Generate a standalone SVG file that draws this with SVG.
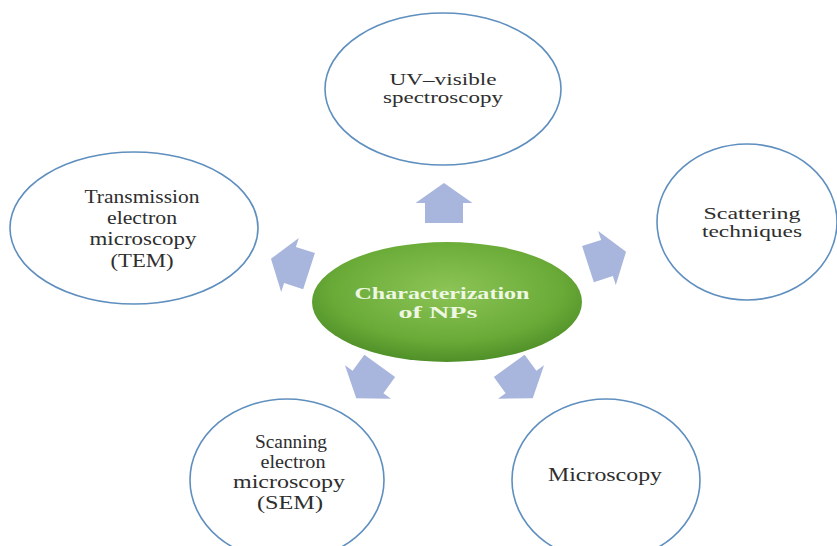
<svg xmlns="http://www.w3.org/2000/svg" width="837" height="546" viewBox="0 0 837 546">
<defs>
<radialGradient id="g" cx="0.5" cy="0.4" r="0.6">
<stop offset="0" stop-color="#8cc456"/>
<stop offset="0.7" stop-color="#6aab38"/>
<stop offset="1" stop-color="#4f8f28"/>
</radialGradient>
<path id="arr" d="M0,-20 L28.5,0 L19,0 L19,20 L-19,20 L-19,0 L-28.5,0 Z"/>
</defs>
<style>
.n{fill:#ffffff;stroke:#5f8fbf;stroke-width:1.6}
.t{font-family:"Liberation Serif","Times New Roman",serif;font-size:19px;fill:#2e2e2e;text-anchor:middle}
.s{font-size:17px}
.c{font-family:"Liberation Serif","Times New Roman",serif;font-size:17px;font-weight:bold;fill:#eef7e2;text-anchor:middle}
.a{fill:#a8b5dc}
</style>
<rect width="837" height="546" fill="#ffffff"/>
<g id="connectors">
<use href="#arr" class="a" transform="translate(444,203)"/>
<use href="#arr" class="a" transform="translate(607,258) rotate(72)"/>
<use href="#arr" class="a" transform="translate(521,382) rotate(144)"/>
<use href="#arr" class="a" transform="translate(368,382) rotate(-144)"/>
<use href="#arr" class="a" transform="translate(290,265) rotate(-72)"/>
</g>
<g id="center">
<ellipse cx="447" cy="302" rx="135" ry="60" fill="url(#g)"/>
<text class="c" x="442" y="299" textLength="175" lengthAdjust="spacingAndGlyphs">Characterization</text>
<text class="c" x="438" y="318" textLength="79" lengthAdjust="spacingAndGlyphs">of NPs</text>
</g>
<g id="uv">
<ellipse class="n" cx="443" cy="89" rx="118" ry="76"/>
<text class="t s" x="443" y="85" textLength="107" lengthAdjust="spacingAndGlyphs">UV–visible</text>
<text class="t s" x="443" y="103" textLength="120" lengthAdjust="spacingAndGlyphs">spectroscopy</text>
</g>
<g id="tem">
<ellipse class="n" cx="134" cy="228" rx="124" ry="76"/>
<text class="t" x="142" y="203" textLength="115" lengthAdjust="spacingAndGlyphs">Transmission</text>
<text class="t" x="142" y="224" textLength="70" lengthAdjust="spacingAndGlyphs">electron</text>
<text class="t" x="143" y="245" textLength="107" lengthAdjust="spacingAndGlyphs">microscopy</text>
<text class="t" x="142" y="267" textLength="63" lengthAdjust="spacingAndGlyphs">(TEM)</text>
</g>
<g id="scattering">
<ellipse class="n" cx="747" cy="222" rx="90" ry="78"/>
<text class="t s" x="752" y="219" textLength="97" lengthAdjust="spacingAndGlyphs">Scattering</text>
<text class="t s" x="752" y="237" textLength="100" lengthAdjust="spacingAndGlyphs">techniques</text>
</g>
<g id="sem">
<ellipse class="n" cx="287" cy="480" rx="97" ry="81"/>
<text class="t" x="291" y="448" textLength="72" lengthAdjust="spacingAndGlyphs">Scanning</text>
<text class="t" x="293" y="468" textLength="65" lengthAdjust="spacingAndGlyphs">electron</text>
<text class="t" x="289" y="488" textLength="112" lengthAdjust="spacingAndGlyphs">microscopy</text>
<text class="t" x="290" y="509" textLength="66" lengthAdjust="spacingAndGlyphs">(SEM)</text>
</g>
<g id="microscopy">
<ellipse class="n" cx="606" cy="480" rx="94" ry="81"/>
<text class="t" x="605" y="481" textLength="114" lengthAdjust="spacingAndGlyphs">Microscopy</text>
</g>
</svg>
